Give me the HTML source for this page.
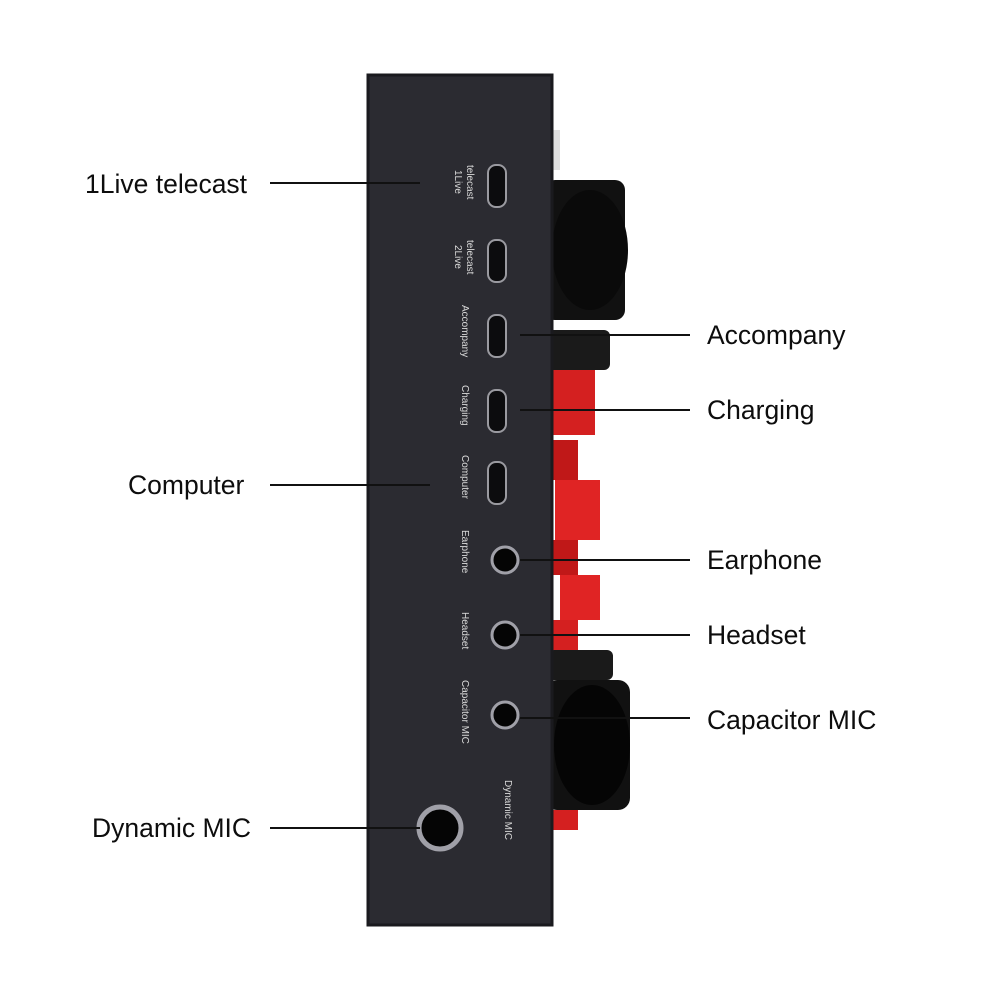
<!DOCTYPE html>
<html><head><meta charset="utf-8"><style>
html,body{margin:0;padding:0;background:#fff;}
body{width:1000px;height:1000px;position:relative;overflow:hidden;font-family:"Liberation Sans",sans-serif;}
.lbl{position:absolute;font-size:26.5px;color:#0d0d0d;line-height:1;}
</style></head><body>
<svg width="1000" height="1000" style="position:absolute;left:0;top:0">
  <rect x="548" y="130" width="12" height="40" fill="#ddd"/>
  <rect x="545" y="180" width="80" height="140" rx="10" fill="#111"/>
  <ellipse cx="590" cy="250" rx="38" ry="60" fill="#0a0a0a"/>
  <rect x="545" y="330" width="65" height="40" rx="6" fill="#1a1a1a"/>
  <rect x="550" y="370" width="45" height="65" fill="#d42020"/>
  <rect x="548" y="440" width="30" height="40" fill="#c01818"/>
  <rect x="555" y="480" width="45" height="60" fill="#e02424"/>
  <rect x="548" y="540" width="30" height="35" fill="#c01818"/>
  <rect x="560" y="575" width="40" height="45" fill="#e02424"/>
  <rect x="548" y="620" width="30" height="30" fill="#d42020"/>
  <rect x="548" y="650" width="65" height="30" rx="6" fill="#1a1a1a"/>
  <rect x="545" y="680" width="85" height="130" rx="12" fill="#111"/>
  <ellipse cx="592" cy="745" rx="38" ry="60" fill="#050505"/>
  <rect x="548" y="810" width="30" height="20" fill="#d42020"/>
  <rect x="368" y="75" width="184" height="850" fill="#2b2b31"/>
  <rect x="368" y="75" width="184" height="850" fill="none" stroke="#1a1a1e" stroke-width="3"/>
  <g fill="#0c0c0e" stroke="#9a9aa0" stroke-width="2">
    <rect x="488" y="165" width="18" height="42" rx="8"/>
    <rect x="488" y="240" width="18" height="42" rx="8"/>
    <rect x="488" y="315" width="18" height="42" rx="8"/>
    <rect x="488" y="390" width="18" height="42" rx="8"/>
    <rect x="488" y="462" width="18" height="42" rx="8"/>
  </g>
  <g fill="#050505" stroke="#a0a0a8" stroke-width="3">
    <circle cx="505" cy="560" r="13"/>
    <circle cx="505" cy="635" r="13"/>
    <circle cx="505" cy="715" r="13"/>
    <circle cx="440" cy="828" r="21" stroke-width="5"/>
  </g>
  <g fill="#d8d8d8" font-family="Liberation Sans,sans-serif" font-size="10">
    <text transform="translate(455,170) rotate(90)">1Live</text>
    <text transform="translate(467,165) rotate(90)">telecast</text>
    <text transform="translate(455,245) rotate(90)">2Live</text>
    <text transform="translate(467,240) rotate(90)">telecast</text>
    <text transform="translate(462,305) rotate(90)">Accompany</text>
    <text transform="translate(462,385) rotate(90)">Charging</text>
    <text transform="translate(462,455) rotate(90)">Computer</text>
    <text transform="translate(462,530) rotate(90)">Earphone</text>
    <text transform="translate(462,612) rotate(90)">Headset</text>
    <text transform="translate(462,680) rotate(90)">Capacitor MIC</text>
    <text transform="translate(505,780) rotate(90)">Dynamic MIC</text>
  </g>
  <g stroke="#111" stroke-width="2">
    <line x1="270" y1="183" x2="420" y2="183"/>
    <line x1="270" y1="485" x2="430" y2="485"/>
    <line x1="270" y1="828" x2="420" y2="828"/>
    <line x1="520" y1="335" x2="690" y2="335"/>
    <line x1="520" y1="410" x2="690" y2="410"/>
    <line x1="520" y1="560" x2="690" y2="560"/>
    <line x1="520" y1="635" x2="690" y2="635"/>
    <line x1="520" y1="718" x2="690" y2="718"/>
  </g>
</svg>
<div class="lbl" style="left:85px;top:171px">1Live telecast</div>
<div class="lbl" style="left:128px;top:472px">Computer</div>
<div class="lbl" style="left:92px;top:815px">Dynamic MIC</div>
<div class="lbl" style="left:707px;top:322px">Accompany</div>
<div class="lbl" style="left:707px;top:397px">Charging</div>
<div class="lbl" style="left:707px;top:547px">Earphone</div>
<div class="lbl" style="left:707px;top:622px">Headset</div>
<div class="lbl" style="left:707px;top:707px">Capacitor MIC</div>
</body></html>
